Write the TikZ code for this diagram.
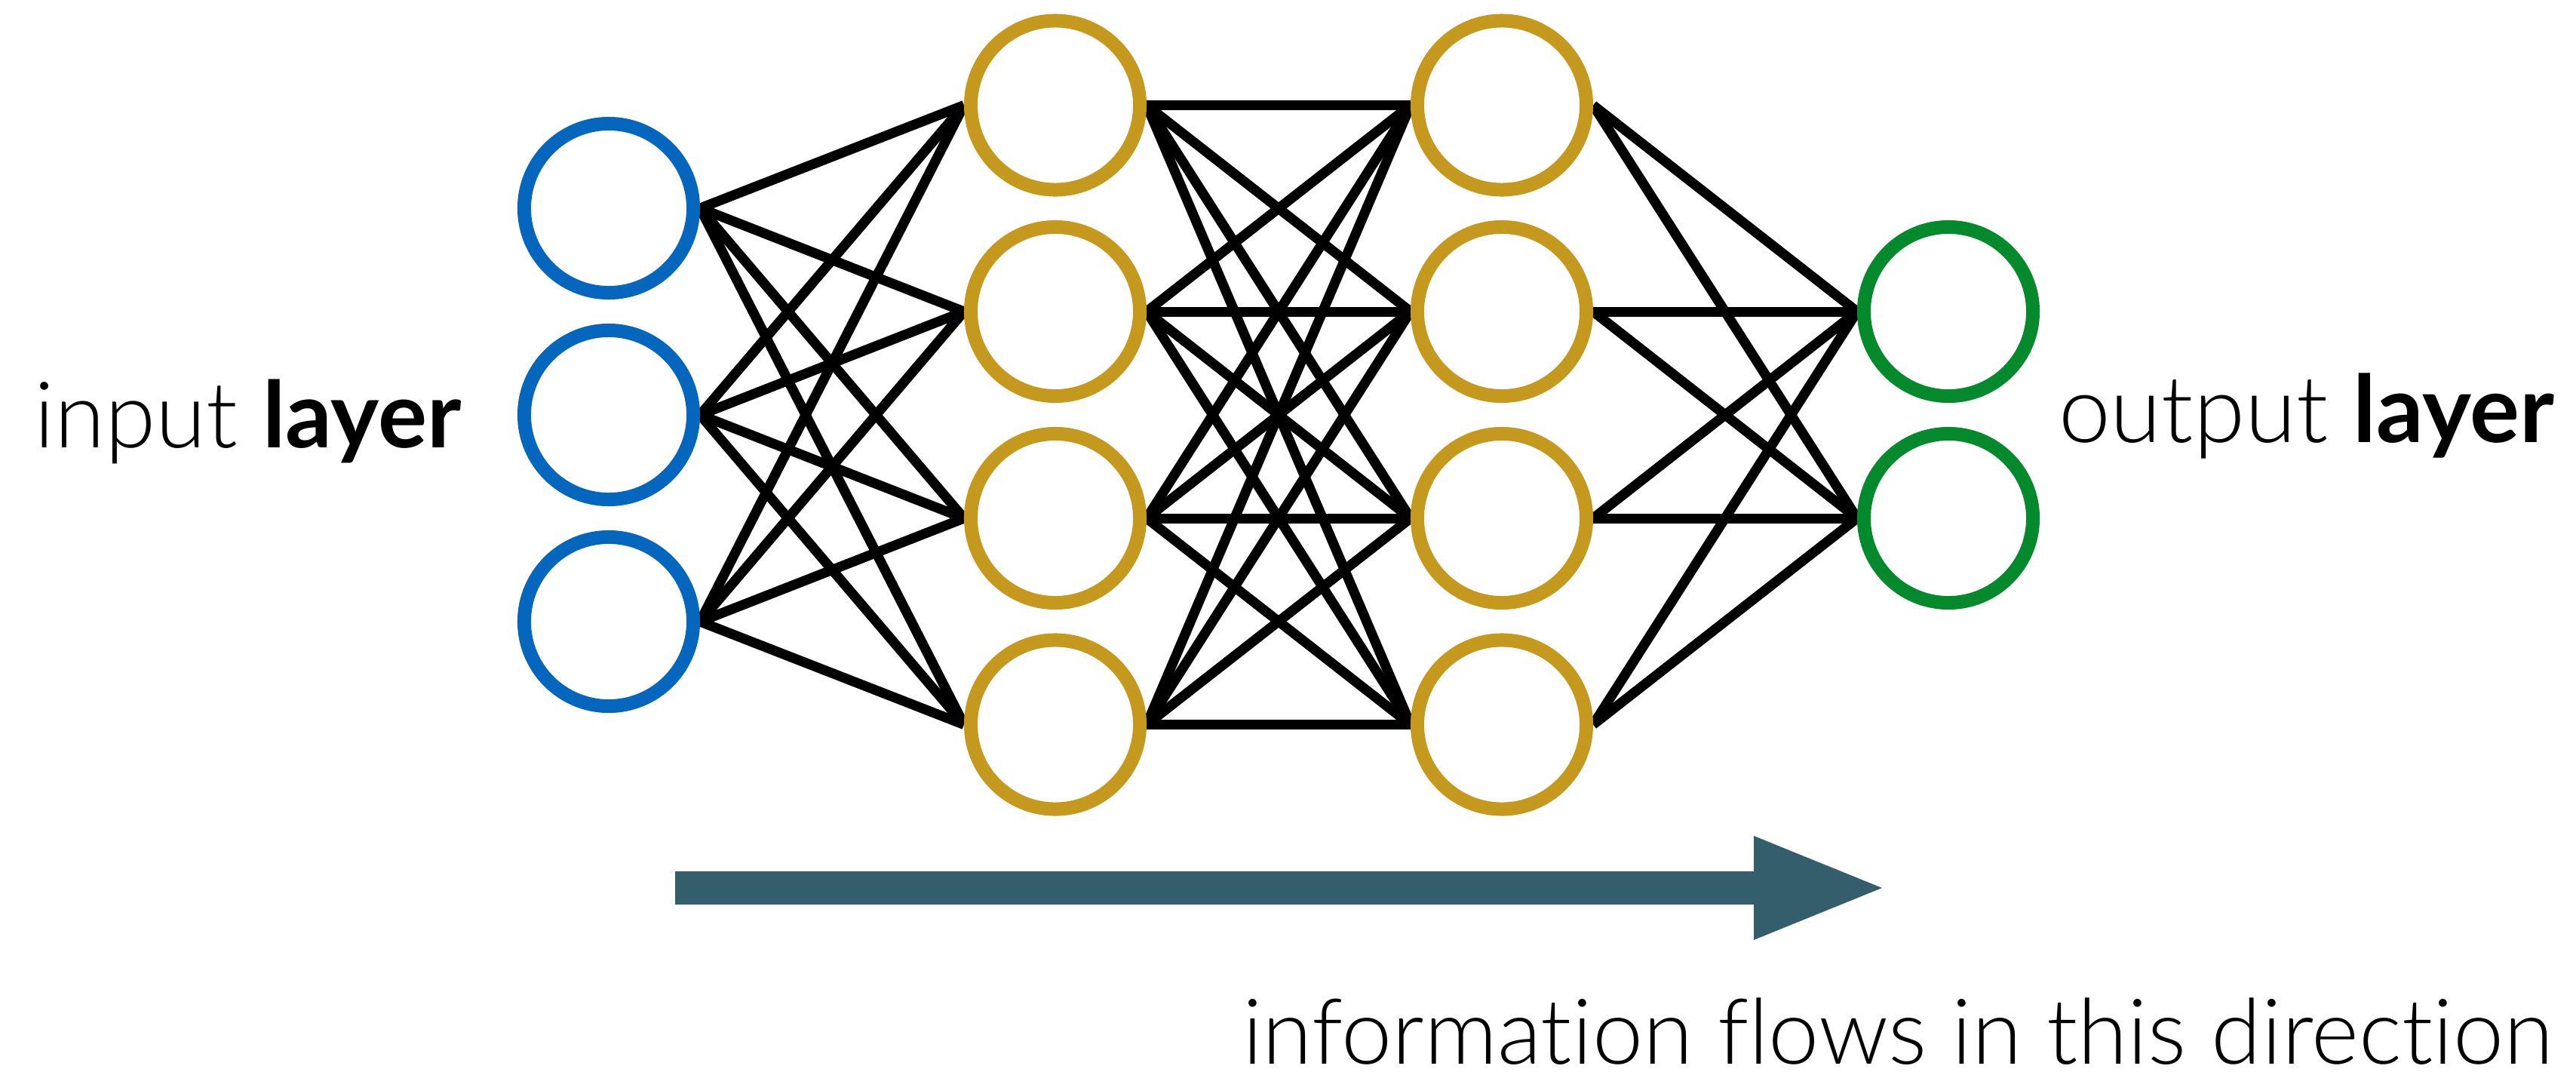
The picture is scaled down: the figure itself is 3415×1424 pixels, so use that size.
\documentclass[tikz,border=0pt]{standalone}
\usepackage{fontspec}
\setmainfont{Lato}[UprightFont=* Light, BoldFont=* Bold, Ligatures=NoCommon]
\usepackage{graphicx}
\usetikzlibrary{backgrounds}

\definecolor{inblue}{HTML}{0566BE}
\definecolor{hidgold}{HTML}{C4991E}
\definecolor{outgreen}{HTML}{05892D}
\definecolor{flowteal}{HTML}{345E6B}

\begin{document}
\begin{tikzpicture}[
  x=0.01cm, y=-0.01cm,
  neuron/.style={circle, draw, line width=0.18cm, minimum size=2.24cm, inner sep=0pt},
  inneuron/.style={neuron, draw=inblue},
  hidneuron/.style={neuron, draw=hidgold},
  outneuron/.style={neuron, draw=outgreen},
  edge/.style={draw=black, line width=0.13cm},
  lbl/.style={inner sep=0pt, outer sep=0pt, text=black}
]
\useasboundingbox (0,0) rectangle (3415,1424);

% input layer
\node[inneuron] (in1) at (807,276) {};
\node[inneuron] (in2) at (807,550) {};
\node[inneuron] (in3) at (807,824) {};

% first hidden layer
\node[hidneuron] (ha1) at (1399,139.5) {};
\node[hidneuron] (ha2) at (1399,413) {};
\node[hidneuron] (ha3) at (1399,687) {};
\node[hidneuron] (ha4) at (1399,960.5) {};

% second hidden layer
\node[hidneuron] (hb1) at (1991,139.5) {};
\node[hidneuron] (hb2) at (1991,413) {};
\node[hidneuron] (hb3) at (1991,687) {};
\node[hidneuron] (hb4) at (1991,960.5) {};

% output layer
\node[outneuron] (out1) at (2583,413) {};
\node[outneuron] (out2) at (2583,687) {};

% fully connected weights, drawn behind the neurons
\begin{scope}[on background layer]
  \foreach \i in {1,2,3}
    \foreach \j in {1,2,3,4}
      \draw[edge] (in\i.east) -- (ha\j.west);
  \foreach \i in {1,2,3,4}
    \foreach \j in {1,2,3,4}
      \draw[edge] (ha\i.east) -- (hb\j.west);
  \foreach \i in {1,2,3,4}
    \foreach \j in {1,2}
      \draw[edge] (hb\i.east) -- (out\j.west);
\end{scope}

% layer labels
\node[lbl, anchor=base west] (inlabel) at (45,593)
  {\resizebox{5.66cm}{!}{input \textbf{layer}}};
\node[lbl, anchor=base west] (outlabel) at (2729,586)
  {\resizebox{6.57cm}{!}{output \textbf{layer}}};

% direction of information flow
\coordinate (flowtail) at (895,1177);
\coordinate (flowtip) at (2495,1177);
\fill[flowteal] (flowtail) ++(0,-22) -- ++(1430,0) -- ++(0,-47)
  -- (flowtip) -- (2325,1246) -- ++(0,-47) -- ++(-1430,0) -- cycle;
\node[lbl, anchor=base west] (flowlabel) at (1647,1410)
  {\resizebox{17.37cm}{!}{information flows in this direction}};
\end{tikzpicture}
\end{document}
